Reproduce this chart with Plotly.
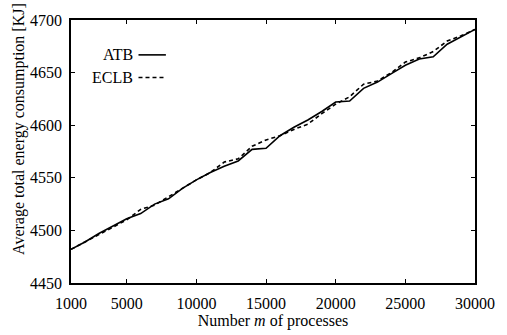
import plotly.graph_objects as go

# ---- data ----
processes = [1000, 2000, 3000, 4000, 5000, 6000, 7000, 8000, 9000, 10000,
             11000, 12000, 13000, 14000, 15000, 16000, 17000, 18000, 19000, 20000,
             21000, 22000, 23000, 24000, 25000, 26000, 27000, 28000, 29000, 30000]
atb = [4482, 4489, 4497, 4504, 4511, 4516, 4525, 4530, 4540, 4548,
       4555, 4561, 4566, 4577, 4578, 4590, 4598, 4605, 4613, 4622,
       4623, 4635, 4641, 4649, 4657, 4663, 4665, 4677, 4684, 4691]
eclb = [4482, 4489, 4496, 4503, 4510, 4520, 4524, 4532, 4540, 4548,
        4555, 4565, 4568, 4580, 4586, 4590, 4596, 4601, 4611, 4620,
        4627, 4639, 4642, 4650, 4660, 4664, 4670, 4680, 4685, 4691]
x_ticks = [1000, 5000, 10000, 15000, 20000, 25000, 30000]
y_ticks = [4450, 4500, 4550, 4600, 4650, 4700]

W, H = 507, 335
L, R, T, B = 71, 23, 13, 43
FONT = "Liberation Serif, Times New Roman, serif"
pw, ph = W - L - R, H - T - B

def px(x):  # pixel -> paper x
    return (x - L) / pw

def py(y):  # pixel -> paper y
    return (H - B - y) / ph

fig = go.Figure()
fig.add_trace(go.Scatter(x=processes, y=atb, mode="lines", name="ATB",
                         line=dict(color="black", width=1.6), showlegend=False))
fig.add_trace(go.Scatter(x=processes, y=eclb, mode="lines", name="ECLB",
                         line=dict(color="black", width=1.6, dash="4px,3px"),
                         showlegend=False))

axis_common = dict(showline=True, linecolor="black", linewidth=1.5, mirror="ticks",
                   ticks="inside", ticklen=4, tickwidth=1, tickcolor="black",
                   showgrid=False, zeroline=False,
                   tickfont=dict(family=FONT, size=16, color="black"))

fig.update_layout(
    width=W, height=H,
    margin=dict(l=L, r=R, t=T, b=B),
    paper_bgcolor="white", plot_bgcolor="white",
    font=dict(family=FONT, size=16, color="black"),
    xaxis=dict(range=[1000, 30000], tickvals=x_ticks,
               ticktext=[str(v) for v in x_ticks], ticklabelstandoff=5,
               title=dict(text="Number <i>m</i> of processes", standoff=0,
                          font=dict(family=FONT, size=16)),
               **axis_common),
    yaxis=dict(range=[4450, 4700], tickvals=y_ticks,
               ticktext=[str(v) for v in y_ticks], ticklabelstandoff=4,
               **axis_common),
)

# y-axis title placed as in the reference
fig.add_annotation(text="Average total energy consumption [KJ]", textangle=-90,
                   xref="paper", yref="paper", x=px(18.5), y=py(129),
                   xanchor="center", yanchor="middle", showarrow=False,
                   font=dict(family=FONT, size=16, color="black"))

# legend: text on the left, line sample on the right
for label, ypix, dash in [("ATB", 50, "solid"), ("ECLB", 74, "4px,3px")]:
    fig.add_annotation(text=label, xref="paper", yref="paper", x=px(136), y=py(ypix),
                       xanchor="right", yanchor="middle", showarrow=False,
                       font=dict(family=FONT, size=16, color="black"))
    fig.add_shape(type="line", xref="paper", yref="paper",
                  x0=px(140), x1=px(168), y0=py(ypix), y1=py(ypix),
                  line=dict(color="black", width=1.6, dash=dash))

fig.write_html("out.html")
